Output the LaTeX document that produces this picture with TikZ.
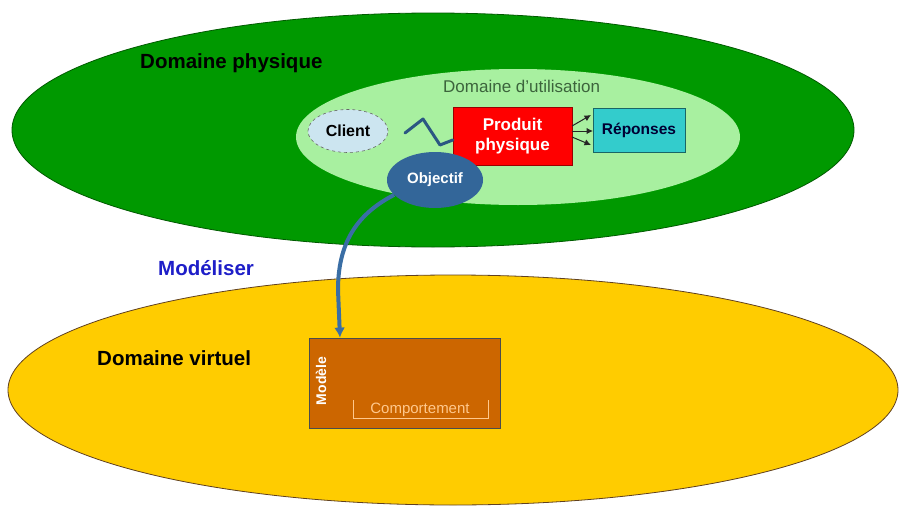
\documentclass[tikz,border=0pt]{standalone}
\usepackage{fontspec}
\setmainfont{Liberation Sans}
\usetikzlibrary{shapes.geometric,arrows.meta}
\definecolor{dgreen}{RGB}{0,153,0}
\definecolor{dgreenline}{RGB}{0,90,0}
\definecolor{lgreen}{RGB}{168,240,160}
\definecolor{yel}{RGB}{255,204,0}
\definecolor{brownbox}{RGB}{204,102,0}
\definecolor{cyanbox}{RGB}{51,204,204}
\definecolor{objblue}{RGB}{51,102,153}
\definecolor{arrblue}{RGB}{58,110,165}
\definecolor{clientfill}{RGB}{204,229,240}
\definecolor{modblue}{RGB}{30,30,200}
\definecolor{utiltext}{RGB}{60,100,60}
\definecolor{comptext}{RGB}{255,200,140}
\tikzset{
  x=1pt, y=-1pt,
  ell/.style={ellipse, inner sep=0pt},
  lbl/.style={font=\bfseries\fontsize{20.5}{24}\selectfont, inner sep=0pt, anchor=west},
  fan/.style={black!85, line width=1pt, -{Latex[length=6.5pt,width=6.5pt]}},
}
\begin{document}
\begin{tikzpicture}
\useasboundingbox[fill=white] (0,0) rectangle (905,514);
% domains
\node[ell, fill=dgreen, draw=dgreenline, line width=0.8pt, minimum width=842pt, minimum height=234pt] (phys) at (433,130) {};
\node[ell, fill=yel, draw=brown!50!black, line width=0.8pt, minimum width=890pt, minimum height=230pt] (virt) at (453,390) {};
\node[ell, fill=lgreen, minimum width=444pt, minimum height=136pt] (util) at (518,137) {};
% labels
\node[lbl] (tphys) at (140,63) {Domaine physique};
\node[lbl, text=modblue] (tmod) at (158,268) {Modéliser};
\node[lbl] (tvirt) at (97,358) {Domaine virtuel};
\node[font=\fontsize{17}{20}\selectfont, text=utiltext, anchor=west, inner sep=0pt] (tutil) at (443,86) {Domaine d'utilisation};
% client
\node[ell, fill=clientfill, draw=black!60, dashed, line width=0.6pt, minimum width=80pt, minimum height=43pt, font=\bfseries\fontsize{16}{18}\selectfont] (client) at (348,131) {Client};
% produit
\node[draw=black!40!red, fill=red, minimum width=119pt, minimum height=58pt, text=white, align=center, font=\bfseries\fontsize{17}{20}\selectfont, inner sep=0pt] (prod) at (512.5,136) {Produit\\physique};
% reponses
\node[draw=black!50!cyanbox, fill=cyanbox, line width=0.8pt, minimum width=92pt, minimum height=44pt, text=black!80!blue, font=\bfseries\fontsize{15.5}{18}\selectfont, inner sep=0pt] (rep) at (639,130) {Réponses};
% objectif
\node[ell, fill=objblue, minimum width=96pt, minimum height=56pt, text=white, font=\bfseries\fontsize{15}{17}\selectfont] (obj) at (435,180) {Objectif};
% zigzag
\coordinate (z0) at (405,133);
\coordinate (z1) at (423,119);
\coordinate (z2) at (440,145);
\draw[objblue!85!black, line width=3pt, line join=round, line cap=round] (z0) -- (z1) -- (z2) -- (prod.west |- 0,140);
% fan arrows
\coordinate (f1) at (572,126);
\coordinate (f2) at (572,131);
\coordinate (f3) at (572,137);
\coordinate (a1) at (591,115);
\coordinate (a2) at (593,131);
\coordinate (a3) at (591,145);
\draw[fan] (f1) -- (a1);
\draw[fan] (f2) -- (a2);
\draw[fan] (f3) -- (a3);
% modele box
\node[draw=black!70, fill=brownbox, minimum width=191pt, minimum height=90pt, line width=0.8pt] (mod) at (404.5,383) {};
\node[rotate=90, text=white, font=\bfseries\fontsize{14}{16}\selectfont, inner sep=0pt] (tmodele) at (321,381) {Modèle};
\draw[comptext, line width=0.9pt] (353,400) -- (353,418) -- (488,418) -- (488,400);
\node[text=comptext, font=\fontsize{15}{17}\selectfont, inner sep=0pt] (comp) at (420,410) {Comportement};
% modeliser arrow
\coordinate (mtop) at (340,338);
\draw[arrblue, line width=4pt, -{Latex[length=10pt,width=11pt]}] (obj.200) .. controls (355,215) and (338,245) .. (338,290) -- (mod.north west -| mtop);
\end{tikzpicture}
\end{document}
